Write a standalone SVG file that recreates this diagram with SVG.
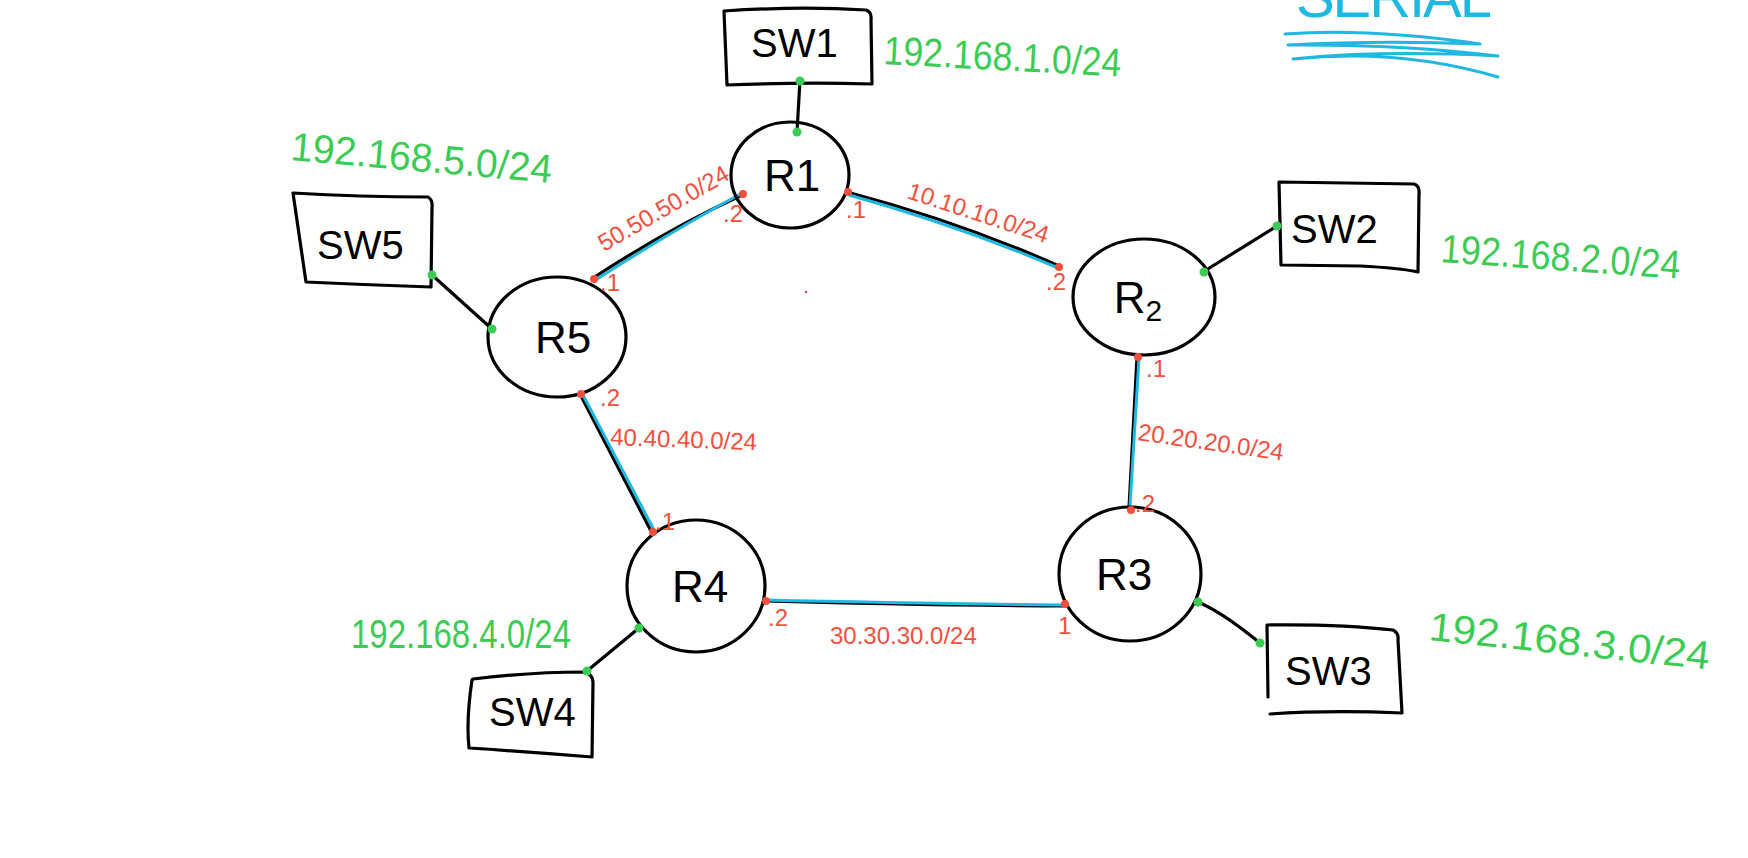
<svg xmlns="http://www.w3.org/2000/svg" width="1748" height="858" viewBox="0 0 1748 858">
<style>
.bg{fill:#fff}
.blk{fill:none;stroke:#000;stroke-width:3.2;stroke-linecap:round;stroke-linejoin:round}
.blu{fill:none;stroke:#1EB8E0;stroke-width:3;stroke-linecap:round;stroke-linejoin:round}
.rt{font-family:"Liberation Sans",Arial,sans-serif;font-size:44px;fill:#000;text-anchor:middle}
.st{font-family:"Liberation Sans",Arial,sans-serif;font-size:40px;fill:#000}
.gt{font-family:"Liberation Sans",Arial,sans-serif;font-size:40px;fill:#3CCB55}
.red{font-family:"Liberation Sans",Arial,sans-serif;font-size:24px;fill:#F2503E}
.rd{fill:#F2503E}
.gd{fill:#3CCB55}
.ser{font-family:"Liberation Sans",Arial,sans-serif;font-size:58px;fill:#1EB8E0}
</style>
<rect class="bg" x="0" y="0" width="1748" height="858"/>

<g id="connectors">
  <path class="blk" d="M593,278 Q670,228 742,195"/>
  <path class="blu" d="M594,281 Q670,232 744,192"/>
  <path class="blk" d="M847,192 Q960,222 1059,266"/>
  <path class="blu" d="M849,195 Q960,226 1058,268"/>
  <path class="blk" d="M1137,357 L1129,508"/>
  <path class="blu" d="M1139,358 L1130,506"/>
  <path class="blk" d="M765,601 Q900,605 1065,606"/>
  <path class="blu" d="M765,600 Q900,603 1063,605"/>
  <path class="blk" d="M580,394 L651,531"/>
  <path class="blu" d="M583,395 L654,530"/>
  <path class="blk" d="M800,80 L797,132"/>
  <path class="blk" d="M1277,226 L1203,272"/>
  <path class="blk" d="M1198,602 Q1222,612 1260,643"/>
  <path class="blk" d="M639,628 L587,671"/>
  <path class="blk" d="M432,275 L492,329"/>
</g>

<g id="R1">
  <ellipse class="blk" cx="790" cy="175" rx="59" ry="53"/>
  <text class="rt" x="792" y="191">R1</text>
</g>
<g id="R2">
  <ellipse class="blk" cx="1144" cy="297" rx="71" ry="58"/>
  <text class="rt" x="1138" y="313">R<tspan font-size="30" dy="8">2</tspan></text>
</g>
<g id="R3">
  <ellipse class="blk" cx="1130" cy="574" rx="71" ry="67"/>
  <text class="rt" x="1124" y="590">R3</text>
</g>
<g id="R4">
  <ellipse class="blk" cx="696" cy="586" rx="69" ry="66"/>
  <text class="rt" x="700" y="602">R4</text>
</g>
<g id="R5">
  <ellipse class="blk" cx="557" cy="337" rx="69" ry="60"/>
  <text class="rt" x="563" y="353">R5</text>
</g>

<g id="SW1">
  <path class="blk" d="M724,11 Q800,6 866,10 Q872,12 871,20 L872,84 Q800,82 727,85 Z"/>
  <text class="st" x="751" y="57">SW1</text>
</g>
<g id="SW2">
  <path class="blk" d="M1279,182 L1414,184 Q1420,186 1419,194 L1418,272 Q1400,268 1360,266 L1281,265 Z"/>
  <text class="st" x="1291" y="243">SW2</text>
</g>
<g id="SW3">
  <path class="blk" d="M1267,625 L1268,697"/>
  <path class="blk" d="M1268,625 Q1340,624 1393,630 Q1399,633 1398,640 L1402,713 Q1330,710 1270,714"/>
  <text class="st" x="1285" y="685">SW3</text>
</g>
<g id="SW4">
  <path class="blk" d="M473,679 Q530,672 585,672 Q593,675 593,682 L592,757 Q530,752 469,748 Q466,720 472,680 Z"/>
  <text class="st" x="489" y="726">SW4</text>
</g>
<g id="SW5">
  <path class="blk" d="M293,193 Q360,197 428,197 Q433,200 432,208 L431,287 Q370,285 306,282 Z"/>
  <text class="st" x="317" y="259">SW5</text>
</g>

<g id="dots">
  <circle class="gd" cx="800" cy="81" r="4.5"/>
  <circle class="gd" cx="797" cy="132" r="4.5"/>
  <circle class="gd" cx="1277" cy="226" r="4.5"/>
  <circle class="gd" cx="1204" cy="272" r="4.5"/>
  <circle class="gd" cx="1198" cy="602" r="4.5"/>
  <circle class="gd" cx="1260" cy="643" r="4.5"/>
  <circle class="gd" cx="639" cy="628" r="4.5"/>
  <circle class="gd" cx="587" cy="671" r="4.5"/>
  <circle class="gd" cx="432" cy="275" r="4.5"/>
  <circle class="gd" cx="492" cy="329" r="4.5"/>
  <circle class="rd" cx="594" cy="279" r="4"/>
  <circle class="rd" cx="743" cy="194" r="4"/>
  <circle class="rd" cx="848" cy="192" r="4"/>
  <circle class="rd" cx="1059" cy="267" r="4"/>
  <circle class="rd" cx="1138" cy="357" r="4"/>
  <circle class="rd" cx="1131" cy="510" r="4"/>
  <circle class="rd" cx="1065" cy="604" r="4"/>
  <circle class="rd" cx="766" cy="601" r="4"/>
  <circle class="rd" cx="581" cy="394" r="4"/>
  <circle class="rd" cx="653" cy="532" r="4"/>
  <circle class="rd" cx="806" cy="292" r="1.3"/>
</g>

<g id="labels">
  <text class="gt" x="883" y="64" textLength="238" lengthAdjust="spacingAndGlyphs" transform="rotate(3 883 64)">192.168.1.0/24</text>
  <text class="gt" x="290" y="160" textLength="262" lengthAdjust="spacingAndGlyphs" transform="rotate(5 290 160)">192.168.5.0/24</text>
  <text class="gt" x="1440" y="262" textLength="240" lengthAdjust="spacingAndGlyphs" transform="rotate(4 1440 262)">192.168.2.0/24</text>
  <text class="gt" x="1428" y="640" font-size="48" textLength="282" lengthAdjust="spacingAndGlyphs" transform="rotate(6 1428 640)">192.168.3.0/24</text>
  <text class="gt" x="351" y="648" textLength="220" lengthAdjust="spacingAndGlyphs">192.168.4.0/24</text>

  <text class="red" x="906" y="198" transform="rotate(18 906 198)">10.10.10.0/24</text>
  <text class="red" x="604" y="252" transform="rotate(-30 604 252)">50.50.50.0/24</text>
  <text class="red" x="610" y="445" transform="rotate(2 610 445)">40.40.40.0/24</text>
  <text class="red" x="1137" y="440" font-size="27" transform="rotate(8 1137 440)">20.20.20.0/24</text>
  <text class="red" x="830" y="644" font-size="31">30.30.30.0/24</text>

  <text class="red" x="846" y="218">.1</text>
  <text class="red" x="723" y="222">.2</text>
  <text class="red" x="600" y="291">.1</text>
  <text class="red" x="1046" y="290">.2</text>
  <text class="red" x="1146" y="377">.1</text>
  <text class="red" x="1135" y="512">.2</text>
  <text class="red" x="600" y="406">.2</text>
  <text class="red" x="655" y="530">.1</text>
  <text class="red" x="768" y="626">.2</text>
  <text class="red" x="1058" y="634">1</text>
</g>

<g id="serial">
  <text class="ser" x="1296" y="17" textLength="196">SERIAL</text>
  <path class="blu" d="M1285,34 Q1370,28 1480,44 Q1380,40 1288,45 Q1400,44 1498,56 Q1380,50 1293,59 Q1400,48 1498,77"/>
</g>
</svg>
